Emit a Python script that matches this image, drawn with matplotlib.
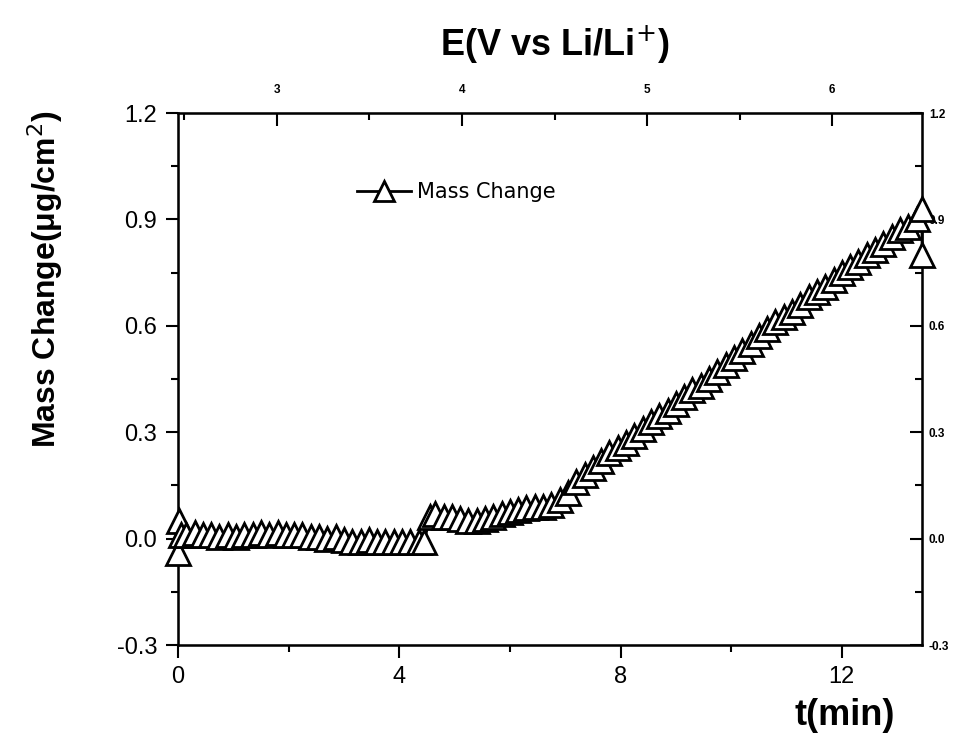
import matplotlib
matplotlib.use("Agg")
import matplotlib.pyplot as plt
from matplotlib.ticker import MultipleLocator, FormatStrFormatter

plt.rcParams['axes.unicode_minus'] = False
plt.rcParams['font.family'] = ['Liberation Sans', 'DejaVu Sans']

# time (min) and mass change (ug/cm2)
t_min = [0.00, 0.02, 0.05, 0.15, 0.30, 0.45, 0.60, 0.75, 0.90, 1.05,
         1.20, 1.35, 1.50, 1.65, 1.80, 1.95, 2.10, 2.25, 2.40, 2.55,
         2.70, 2.85, 3.00, 3.15, 3.30, 3.45, 3.60, 3.75, 3.90, 4.05,
         4.20, 4.35, 4.45, 4.55, 4.65, 4.80, 4.95, 5.10, 5.25, 5.40,
         5.55, 5.70, 5.85, 6.00, 6.15, 6.30, 6.45, 6.60, 6.75, 6.90,
         7.05, 7.20, 7.35, 7.50, 7.65, 7.80, 7.95, 8.10, 8.25, 8.40,
         8.55, 8.70, 8.85, 9.00, 9.15, 9.30, 9.45, 9.60, 9.75, 9.90,
         10.05, 10.20, 10.35, 10.50, 10.65, 10.80, 10.95, 11.10, 11.25, 11.40,
         11.55, 11.70, 11.85, 12.00, 12.15, 12.30, 12.45, 12.60, 12.75, 12.90,
         13.05, 13.20, 13.35, 13.45, 13.45]
mass = [-0.04, 0.05, 0.01, 0.01, 0.015, 0.01, 0.01, 0.005, 0.01, 0.005,
        0.01, 0.01, 0.015, 0.01, 0.015, 0.01, 0.01, 0.01, 0.005, 0.005,
        0.0, 0.005, -0.005, -0.01, -0.01, -0.005, -0.01, -0.01, -0.01, -0.01,
        -0.01, -0.01, -0.01, 0.06, 0.07, 0.06, 0.06, 0.055, 0.05, 0.05,
        0.055, 0.06, 0.07, 0.075, 0.08, 0.085, 0.09, 0.09, 0.095, 0.11,
        0.13, 0.16, 0.18, 0.20, 0.22, 0.24, 0.255, 0.27, 0.29, 0.31,
        0.33, 0.345, 0.36, 0.38, 0.40, 0.42, 0.43, 0.45, 0.47, 0.49,
        0.51, 0.53, 0.55, 0.57, 0.59, 0.61, 0.625, 0.64, 0.66, 0.68,
        0.695, 0.71, 0.73, 0.75, 0.765, 0.78, 0.80, 0.815, 0.83, 0.85,
        0.87, 0.88, 0.90, 0.93, 0.80]

t_lim = (0, 13.45)
e_lim = (2.465, 6.486)   # potential scale on top axis
y_lim = (-0.3, 1.2)

fig = plt.figure(figsize=(9.72, 7.45), dpi=100)
ax = fig.add_axes([0.1831, 0.1342, 0.7655, 0.7141])

ax.plot(t_min, mass, color='black', lw=2.0, marker='^', markersize=17,
        markerfacecolor='white', markeredgecolor='black', markeredgewidth=2.0,
        label='Mass Change', clip_on=False, zorder=5)

ax.set_xlim(*t_lim)
ax.set_ylim(*y_lim)
ax.xaxis.set_major_locator(MultipleLocator(4))
ax.xaxis.set_minor_locator(MultipleLocator(2))
ax.yaxis.set_major_locator(MultipleLocator(0.3))
ax.yaxis.set_minor_locator(MultipleLocator(0.15))
ax.yaxis.set_major_formatter(FormatStrFormatter('%.1f'))
ax.tick_params(which='major', direction='out', length=9, width=1.5, labelsize=17, pad=6)
ax.tick_params(which='minor', direction='out', length=5, width=1.5)
for s in ax.spines.values():
    s.set_linewidth(1.8)

# right axis (same scale, small labels)
ax_r = ax.twinx()
ax_r.set_ylim(*y_lim)
ax_r.yaxis.set_major_locator(MultipleLocator(0.3))
ax_r.yaxis.set_minor_locator(MultipleLocator(0.15))
ax_r.yaxis.set_major_formatter(FormatStrFormatter('%.1f'))
ax_r.tick_params(which='major', direction='in', length=9, width=1.5,
                 labelsize=8.5, pad=5)
ax_r.tick_params(which='minor', direction='in', length=5, width=1.5)
for lab in ax_r.get_yticklabels():
    lab.set_fontweight('bold')

# top axis: potential
ax_t = ax.twiny()
ax_t.set_xlim(*e_lim)
ax_t.xaxis.set_major_locator(MultipleLocator(1))
ax_t.xaxis.set_minor_locator(MultipleLocator(0.5))
ax_t.tick_params(which='major', direction='in', length=9, width=1.5,
                 labelsize=8.5, pad=12)
ax_t.tick_params(which='minor', direction='in', length=5, width=1.5)
for lab in ax_t.get_xticklabels():
    lab.set_fontweight('bold')
ax.set_zorder(ax_t.get_zorder() + 1)
ax.patch.set_visible(False)

fig.text(0.571, 0.940, r'E(V vs Li/Li$^{+}$)', ha='center', va='center',
         fontsize=26, fontweight='bold')
fig.text(0.869, 0.040, 't(min)', ha='center', va='center',
         fontsize=26, fontweight='bold')
fig.text(0.046, 0.625, r'Mass Change($\mathregular{\mu}$g/cm$^{2}$)', ha='center', va='center',
         rotation=90, fontsize=23, fontweight='bold')

ax.legend(loc='upper left', bbox_to_anchor=(0.215, 0.905), frameon=False,
          prop={'family': 'DejaVu Sans', 'size': 15},
          handlelength=2.6, handletextpad=0.3, markerscale=0.85)

fig.savefig('out.png', dpi=100)
